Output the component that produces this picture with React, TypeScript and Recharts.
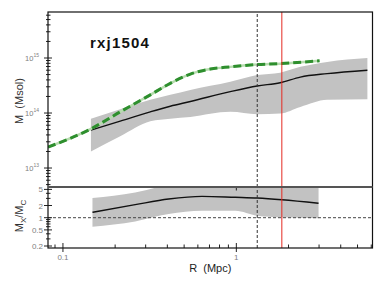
import React from 'react';
import { ComposedChart, Line, Area, XAxis, YAxis, ReferenceLine } from 'recharts';

// green dashed profile (top panel)
const greenR = [0.082, 0.144, 0.214, 0.319, 0.416, 0.543, 0.708, 0.923, 1.32, 1.79, 3.02];
const greenM = [2.4e13, 5.1e13, 1.05e14, 2.14e14, 3.47e14, 5.1e14, 6.3e14, 6.9e14, 7.6e14, 7.9e14, 8.9e14];

// black profile with grey band (top panel)
const profR = [0.145, 0.214, 0.319, 0.416, 0.543, 0.923, 1.32, 1.79, 2.34, 3.34, 5.7];
const profM = [4.9e13, 7.1e13, 1.05e14, 1.33e14, 1.62e14, 2.45e14, 3.1e14, 3.55e14, 4.5e14, 5.2e14, 6.0e14];
const profLo = [2.0e13, 3.8e13, 7.1e13, 7.9e13, 8.5e13, 1.05e14, 9.5e13, 9.8e13, 1.29e14, 1.74e14, 1.78e14];
const profHi = [7.9e13, 1.17e14, 1.74e14, 2.14e14, 2.63e14, 3.7e14, 4.9e14, 5.4e14, 6.9e14, 8.5e14, 1.0e15];

// ratio Mx/Mc (bottom panel)
const ratioR = [0.148, 0.261, 0.407, 0.634, 0.987, 1.32, 1.83, 2.98];
const ratio = [1.36, 2.1, 2.9, 3.37, 3.19, 3.06, 2.78, 2.27];
const ratioLo = [0.6, 0.81, 1.23, 1.49, 1.49, 1.12, 1.02, 0.97];
const ratioHi = [3.06, 4.2, 6.5, 8, 8.5, 8.5, 8, 7];

// reference radii
const rDashed = 1.32;
const rRed = 1.83;

// ticks
const xMajor = [0.1, 1];
const xMinor = [0.09, 0.2, 0.3, 0.4, 0.5, 0.6, 0.7, 0.8, 0.9, 2, 3, 4, 5, 6];
const massMajor = [1e13, 1e14, 1e15];
const massMinor = [5e12, 6e12, 7e12, 8e12, 9e12, 2e13, 3e13, 4e13, 5e13, 6e13, 7e13, 8e13, 9e13,
  2e14, 3e14, 4e14, 5e14, 6e14, 7e14, 8e14, 9e14, 2e15, 3e15, 4e15, 5e15, 6e15];
const ratioMajor = [0.2, 0.5, 1, 2, 5];
const ratioMinor = [0.3, 0.4, 0.6, 0.7, 0.8, 0.9, 3, 4];

const greenRows = greenR.map((r, i) => ({ r, m: greenM[i] }));
const profRows = profR.map((r, i) => ({ r, m: profM[i], band: [profLo[i], profHi[i]] }));
const ratioRows = ratioR.map((r, i) => ({ r, v: ratio[i], band: [ratioLo[i], ratioHi[i]] }));

const W = 385;
const H = 289;
const X0 = 48;
const X1 = 372.5;
const TOP = 12;
const MID = 187;
const BOT = 248;
const FONT = '"Liberation Sans", Arial, sans-serif';

const xDomain = [0.082, 6.1];
const massDomain = [4.52e12, 6.86e15];
const ratioDomain = [0.1786, 5.73];

const MassTick = (props: any) => {
  const { y, payload } = props;
  const v = payload.value;
  const major = massMajor.includes(v);
  return (
    <g>
      <line x1={major ? X0 - 4 : X0 - 2} x2={major ? X0 + 4 : X0 + 2.5} y1={y} y2={y} stroke="#222" strokeWidth={1} />
      {major && (
        <text x={39} y={y + 3} textAnchor="end" fontSize={7.5} fill="#808080" fontFamily={FONT}>
          10<tspan dy={-4.5} fontSize={5}>{Math.round(Math.log10(v))}</tspan>
        </text>
      )}
    </g>
  );
};

const RatioTick = (props: any) => {
  const { y, payload } = props;
  const v = payload.value;
  const major = ratioMajor.includes(v);
  return (
    <g>
      <line x1={major ? X0 - 4 : X0 - 2} x2={major ? X0 + 4 : X0 + 2.5} y1={y} y2={y} stroke="#222" strokeWidth={1} />
      {major && (
        <text x={43} y={y + 3} textAnchor="end" fontSize={8} fill="#808080" fontFamily={FONT}>
          {v}
        </text>
      )}
    </g>
  );
};

const XTick = (props: any) => {
  const { x, payload } = props;
  const v = payload.value;
  const major = xMajor.includes(v);
  return (
    <g>
      <line x1={x} x2={x} y1={major ? BOT - 5 : BOT - 3.5} y2={major ? BOT + 4 : BOT} stroke="#222" strokeWidth={1} />
      {major && v === 1 && <line x1={x} x2={x} y1={MID} y2={MID + 3.5} stroke="#222" strokeWidth={1} />}
      {major && (
        <text x={x} y={BOT + 12} textAnchor="middle" fontSize={8} fill="#808080" fontFamily={FONT}>
          {v}
        </text>
      )}
    </g>
  );
};

export default function App() {
  const abs: React.CSSProperties = { position: 'absolute', left: 0, top: 0 };
  return (
    <div style={{ position: 'absolute', left: 0, top: 0, width: W, height: H, background: '#fff' }}>
      <div style={abs}>
        <ComposedChart width={W} height={MID} margin={{ top: TOP, right: W - X1, bottom: 0, left: 0 }}>
          <XAxis type="number" dataKey="r" scale="log" domain={xDomain} allowDataOverflow hide />
          <YAxis
            type="number"
            scale="log"
            domain={massDomain}
            allowDataOverflow
            width={X0}
            ticks={[...massMajor, ...massMinor]}
            interval={0}
            tick={<MassTick />}
            tickLine={false}
            axisLine={false}
          />
          <Area
            data={profRows}
            dataKey="band"
            type="monotone"
            fill="#c2c2c2"
            fillOpacity={1}
            stroke="none"
            isAnimationActive={false}
          />
          <Line data={profRows} dataKey="m" type="monotone" stroke="#111" strokeWidth={1.4} dot={false} isAnimationActive={false} />
          <Line data={greenRows} dataKey="m" type="monotone" stroke="#b6dcae" strokeWidth={2.5} dot={false} isAnimationActive={false} />
          <Line
            data={greenRows}
            dataKey="m"
            type="monotone"
            stroke="#2e8f2e"
            strokeWidth={3}
            strokeDasharray="8 4"
            dot={false}
            isAnimationActive={false}
          />
          <ReferenceLine x={rDashed} stroke="#333" strokeDasharray="3 2" />
          <ReferenceLine x={rRed} stroke="#e42a22" strokeWidth={1} />
        </ComposedChart>
      </div>
      <div style={abs}>
        <ComposedChart width={W} height={H} margin={{ top: MID, right: W - X1, bottom: 0, left: 0 }}>
          <XAxis
            type="number"
            dataKey="r"
            scale="log"
            domain={xDomain}
            allowDataOverflow
            height={H - BOT}
            ticks={[...xMajor, ...xMinor]}
            interval={0}
            tick={<XTick />}
            tickLine={false}
            axisLine={false}
            label={{
              value: 'R\u00a0 (Mpc)',
              position: 'insideBottom',
              offset: 17,
              fontSize: 11,
              fill: '#222',
              fontFamily: FONT,
            }}
          />
          <YAxis
            type="number"
            scale="log"
            domain={ratioDomain}
            allowDataOverflow
            width={X0}
            ticks={[...ratioMajor, ...ratioMinor]}
            interval={0}
            tick={<RatioTick />}
            tickLine={false}
            axisLine={false}
          />
          <Area
            data={ratioRows}
            dataKey="band"
            type="monotone"
            fill="#c2c2c2"
            fillOpacity={1}
            stroke="none"
            isAnimationActive={false}
          />
          <Line data={ratioRows} dataKey="v" type="monotone" stroke="#111" strokeWidth={1.4} dot={false} isAnimationActive={false} />
          <ReferenceLine y={1} stroke="#444" strokeDasharray="3 2" />
          <ReferenceLine x={rDashed} stroke="#333" strokeDasharray="3 2" />
          <ReferenceLine x={rRed} stroke="#e42a22" strokeWidth={1} />
        </ComposedChart>
      </div>
      <svg width={W} height={H} style={{ ...abs, pointerEvents: 'none' }}>
        <rect x={X0} y={TOP} width={X1 - X0} height={BOT - TOP} fill="none" stroke="#111" strokeWidth={1.2} />
        <line x1={X0} x2={X1} y1={MID} y2={MID} stroke="#555" strokeWidth={2} />
        <text x={90} y={48} fontSize={15} fontWeight="bold" letterSpacing={1.2} fill="#111" fontFamily={FONT}>
          rxj1504
        </text>
        <text
          transform={`translate(23, 101) rotate(-90)`}
          textAnchor="middle"
          fontSize={11}
          fill="#333"
          fontFamily={FONT}
        >
          {'M\u00a0\u00a0(Msol)'}
        </text>
        <text
          transform={`translate(23, 216) rotate(-90)`}
          textAnchor="middle"
          fontSize={11}
          fill="#333"
          fontFamily={FONT}
        >
          M<tspan dy={3} fontSize={8}>X</tspan>
          <tspan dy={-3}>/M</tspan>
          <tspan dy={3} fontSize={8}>C</tspan>
        </text>
      </svg>
    </div>
  );
}
